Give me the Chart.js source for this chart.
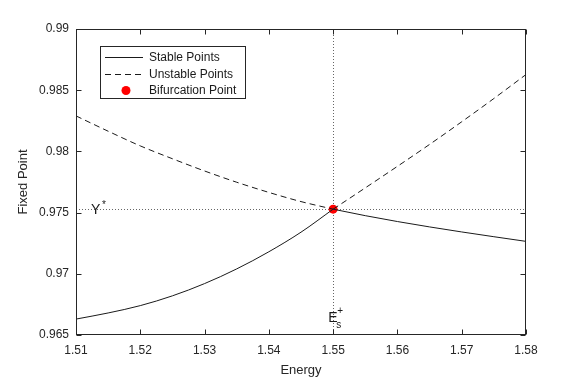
<!DOCTYPE html>
<html>
<head>
<meta charset="utf-8">
<script src="https://cdn.jsdelivr.net/npm/chart.js@4"></script>
<style>
  html, body { margin: 0; padding: 0; background: #fff; }
  canvas { display: block; }
</style>
</head>
<body>
<canvas id="chart" width="581" height="380"></canvas>
<script>
// values
const energyLeft = [1.51, 1.515, 1.52, 1.525, 1.53, 1.535, 1.54, 1.545, 1.55];
const energyRight = [1.55, 1.555, 1.56, 1.565, 1.57, 1.575, 1.58];
const stableLeft = [0.9663, 0.9668, 0.9674, 0.9682, 0.9692, 0.9704, 0.9718, 0.9734, 0.97528];
const stableRight = [0.97528, 0.97475, 0.97427, 0.97383, 0.97342, 0.97303, 0.97265];
const unstableLeft = [0.9829, 0.98165, 0.98045, 0.9794, 0.9784, 0.97748, 0.97665, 0.9759, 0.97528];
const unstableRight = [0.97528, 0.97702, 0.97878, 0.98057, 0.98242, 0.98432, 0.98628];
const bifurcationEnergy = [1.55];
const bifurcationValue = [0.97528];
const yStar = 0.97528;
const eStar = 1.55;

const FONT = '"Liberation Sans", Arial, sans-serif';
const AXIS = '#262626';

function pts(xs, ys) {
  return xs.map((x, i) => ({ x: x, y: ys[i] }));
}

function curve(label, xs, ys, dash) {
  return {
    label: label,
    data: pts(xs, ys),
    showLine: true,
    borderColor: '#1a1a1a',
    borderWidth: 1,
    borderDash: dash,
    pointRadius: 0,
    cubicInterpolationMode: 'monotone',
    fill: false
  };
}

const datasets = [
  curve('Stable Points', energyLeft, stableLeft, []),
  curve('Stable Points', energyRight, stableRight, []),
  curve('Unstable Points', energyLeft, unstableLeft, [6, 4]),
  curve('Unstable Points', energyRight, unstableRight, [6, 4]),
  {
    label: 'Bifurcation Point',
    data: pts(bifurcationEnergy, bifurcationValue),
    showLine: false,
    pointRadius: 4.5,
    pointBackgroundColor: '#ff0000',
    pointBorderColor: '#ff0000',
    pointBorderWidth: 0
  }
];

// dotted reference lines behind the curves
const refLines = {
  id: 'refLines',
  beforeDatasetsDraw(chart) {
    const { ctx, chartArea: a, scales: { x, y } } = chart;
    const py = Math.round(y.getPixelForValue(yStar)) + 0.5;
    const px = Math.round(x.getPixelForValue(eStar)) + 0.5;
    ctx.save();
    ctx.strokeStyle = '#666';
    ctx.lineWidth = 1;
    ctx.setLineDash([1, 2]);
    ctx.beginPath();
    ctx.moveTo(a.left, py); ctx.lineTo(a.right, py);
    ctx.moveTo(px, a.top); ctx.lineTo(px, a.bottom);
    ctx.stroke();
    ctx.restore();
  }
};

// matlab style box, inward ticks, legend, labels
const decor = {
  id: 'decor',
  afterDraw(chart) {
    const { ctx, chartArea: a, scales: { x, y } } = chart;
    ctx.save();
    ctx.strokeStyle = AXIS;
    ctx.lineWidth = 1;
    ctx.setLineDash([]);
    const L = Math.round(a.left) + 0.5, R = Math.round(a.right) - 0.5;
    const T = Math.round(a.top) + 0.5, B = Math.round(a.bottom) - 0.5;
    ctx.strokeRect(L, T, R - L, B - T);
    ctx.beginPath();
    x.ticks.forEach(t => {
      const p = Math.round(x.getPixelForValue(t.value)) + 0.5;
      ctx.moveTo(p, B); ctx.lineTo(p, B - 5);
      ctx.moveTo(p, T); ctx.lineTo(p, T + 5);
    });
    y.ticks.forEach(t => {
      const p = Math.round(y.getPixelForValue(t.value)) + 0.5;
      ctx.moveTo(L, p); ctx.lineTo(L + 5, p);
      ctx.moveTo(R, p); ctx.lineTo(R - 5, p);
    });
    ctx.stroke();

    // Y* and E_s^+ labels
    ctx.fillStyle = '#1a1a1a';
    ctx.textBaseline = 'alphabetic';
    ctx.textAlign = 'left';
    const py = y.getPixelForValue(yStar);
    ctx.font = '14px ' + FONT;
    ctx.fillText('Y', 91, py + 5);
    ctx.font = '10px ' + FONT;
    ctx.fillText('*', 102, py - 1);
    const px = x.getPixelForValue(eStar);
    ctx.font = '14px ' + FONT;
    ctx.fillText('E', px - 5, a.bottom - 13);
    ctx.font = '10px ' + FONT;
    ctx.fillText('s', px + 3, a.bottom - 7);
    ctx.fillText('+', px + 4, a.bottom - 21);

    // legend
    const bx = 100.5, by = 46.5, bw = 145, bh = 52;
    ctx.fillStyle = '#fff';
    ctx.fillRect(bx, by, bw, bh);
    ctx.strokeStyle = AXIS;
    ctx.strokeRect(bx, by, bw, bh);
    const rows = [
      { ds: datasets[0], yy: 57.5 },
      { ds: datasets[2], yy: 74.5 },
      { ds: datasets[4], yy: 90.5 }
    ];
    ctx.font = '12px ' + FONT;
    ctx.textBaseline = 'middle';
    rows.forEach(r => {
      if (r.ds.showLine) {
        ctx.strokeStyle = r.ds.borderColor;
        ctx.setLineDash(r.ds.borderDash);
        ctx.beginPath();
        ctx.moveTo(105, r.yy); ctx.lineTo(143, r.yy);
        ctx.stroke();
        ctx.setLineDash([]);
      } else {
        ctx.fillStyle = r.ds.pointBackgroundColor;
        ctx.beginPath();
        ctx.arc(126, r.yy, 4.5, 0, Math.PI * 2);
        ctx.fill();
      }
      ctx.fillStyle = '#1a1a1a';
      ctx.fillText(r.ds.label, 149, r.yy + 0.5);
    });
    ctx.restore();
  }
};

const fmt = v => String(+Number(v).toFixed(3));

new Chart(document.getElementById('chart'), {
  type: 'scatter',
  data: { datasets: datasets },
  options: {
    responsive: false,
    animation: false,
    devicePixelRatio: 1,
    layout: { padding: { left: 0, top: 29, right: 55, bottom: 0 } },
    plugins: { legend: { display: false }, tooltip: { enabled: false } },
    scales: {
      x: {
        type: 'linear',
        min: 1.51,
        max: 1.58,
        grid: { display: false, drawTicks: false },
        border: { display: false },
        ticks: {
          stepSize: 0.01,
          autoSkip: false,
          maxRotation: 0,
          padding: 8,
          color: AXIS,
          font: { family: FONT, size: 12 },
          callback: fmt
        },
        title: {
          display: true,
          text: 'Energy',
          color: AXIS,
          font: { family: FONT, size: 13 },
          padding: { top: 0, bottom: 2 }
        },
        afterFit: s => { s.height = 45; }
      },
      y: {
        min: 0.965,
        max: 0.99,
        grid: { display: false, drawTicks: false },
        border: { display: false },
        ticks: {
          stepSize: 0.005,
          autoSkip: false,
          padding: 7,
          color: AXIS,
          font: { family: FONT, size: 12 },
          callback: fmt
        },
        title: {
          display: true,
          text: 'Fixed Point',
          color: AXIS,
          font: { family: FONT, size: 13 },
          padding: { top: 16, bottom: 16 }
        },
        afterFit: s => { s.width = 76; }
      }
    }
  },
  plugins: [refLines, decor]
});
</script>
</body>
</html>
